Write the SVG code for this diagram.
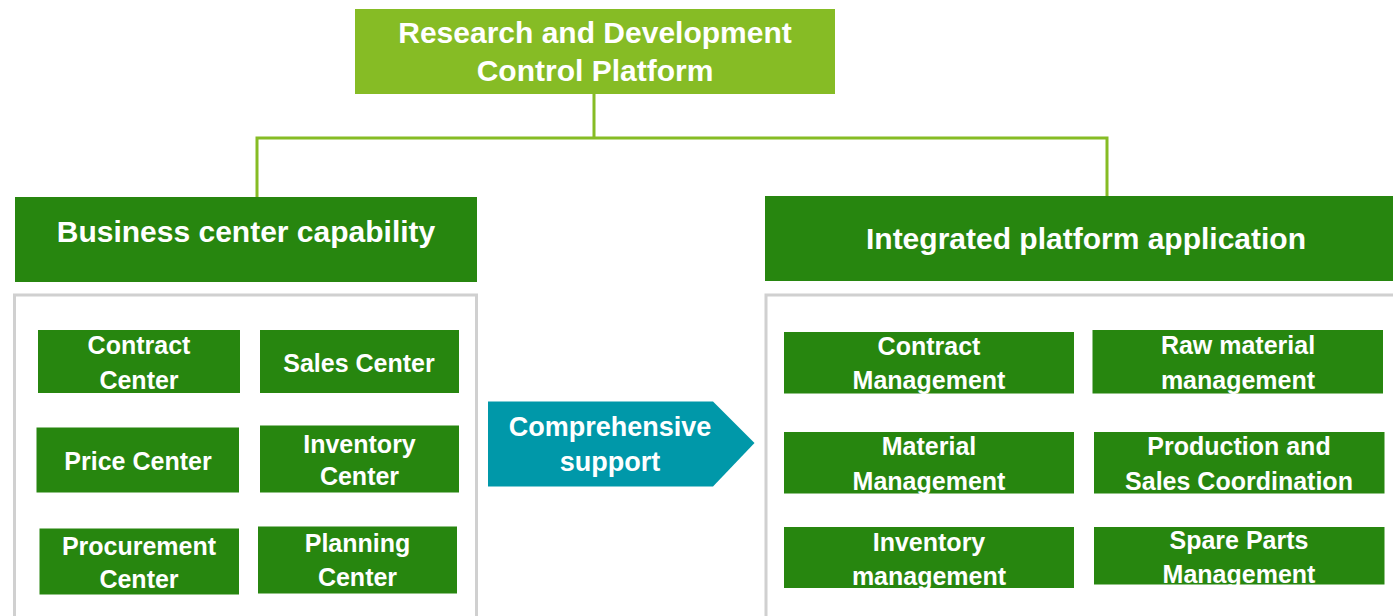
<svg xmlns="http://www.w3.org/2000/svg" width="1393" height="616" viewBox="0 0 1393 616">
<style>
.bg{fill:#ffffff}
.top{fill:#86BC25}
.hdr{fill:#27860F}
.item{fill:#27860F}
.cont{fill:#ffffff;stroke:#D0D0D0;stroke-width:3}
.arrow{fill:#0098A9}
.conn{fill:none;stroke:#86BC25;stroke-width:3}
text{font-family:"Liberation Sans",Arial,sans-serif;font-weight:bold;fill:#ffffff;text-anchor:middle}
.t1{font-size:30px}
.t2{font-size:30px}
.t3{font-size:27px}
.t4{font-size:25px}
</style>
<rect class="bg" x="0" y="0" width="1393" height="616"/>
<g id="connectors">
<path class="conn" d="M594,94 V138 M257,197 V138 H1107 V197"/>
</g>
<g id="rd-platform">
<rect class="top" x="355" y="9" width="480" height="85"/>
<text class="t1" x="595" y="43">Research and Development</text>
<text class="t1" x="595" y="81">Control Platform</text>
</g>
<g id="business-center">
<rect class="hdr" x="15" y="197" width="462" height="85"/>
<text class="t2" x="246" y="242">Business center capability</text>
</g>
<g id="integrated-platform">
<rect class="hdr" x="765" y="196" width="642" height="85"/>
<text class="t2" x="1086" y="249">Integrated platform application</text>
</g>
<g id="business-container">
<rect class="cont" x="14.5" y="295" width="462" height="340"/>
</g>
<g id="integrated-container">
<rect class="cont" x="766" y="295" width="700" height="340"/>
</g>
<g id="contract-center">
<rect class="item" x="38" y="330" width="202" height="63"/>
<text class="t4" x="139" y="354">Contract</text>
<text class="t4" x="139" y="388.5">Center</text>
</g>
<g id="sales-center">
<rect class="item" x="260" y="330" width="199" height="63"/>
<text class="t4" x="359" y="372">Sales Center</text>
</g>
<g id="price-center">
<rect class="item" x="36.5" y="427.5" width="202.5" height="65"/>
<text class="t4" x="138" y="470">Price Center</text>
</g>
<g id="inventory-center">
<rect class="item" x="260" y="425.5" width="199" height="67"/>
<text class="t4" x="359.5" y="452.5">Inventory</text>
<text class="t4" x="359.5" y="485">Center</text>
</g>
<g id="procurement-center">
<rect class="item" x="39.5" y="528.5" width="199.5" height="66"/>
<text class="t4" x="139" y="555">Procurement</text>
<text class="t4" x="139" y="587.5">Center</text>
</g>
<g id="planning-center">
<rect class="item" x="258" y="526.5" width="199" height="67"/>
<text class="t4" x="357.5" y="552">Planning</text>
<text class="t4" x="357.5" y="586">Center</text>
</g>
<g id="comprehensive-support">
<polygon class="arrow" points="488,401.5 713,401.5 754.5,443 713,486.5 488,486.5"/>
<text class="t3" x="610" y="436">Comprehensive</text>
<text class="t3" x="610" y="471">support</text>
</g>
<g id="contract-management">
<rect class="item" x="784" y="332" width="290" height="61.5"/>
<text class="t4" x="929" y="354.5">Contract</text>
<text class="t4" x="929" y="388.5">Management</text>
</g>
<g id="raw-material-management">
<rect class="item" x="1092.5" y="330" width="290.5" height="63.5"/>
<text class="t4" x="1238" y="354">Raw material</text>
<text class="t4" x="1238" y="388.5">management</text>
</g>
<g id="material-management">
<rect class="item" x="784" y="432" width="290" height="61.5"/>
<text class="t4" x="929" y="455">Material</text>
<text class="t4" x="929" y="489.5">Management</text>
</g>
<g id="production-sales-coordination">
<rect class="item" x="1094" y="432" width="290.5" height="61.5"/>
<text class="t4" x="1239" y="455">Production and</text>
<text class="t4" x="1239" y="489.5">Sales Coordination</text>
</g>
<g id="inventory-management">
<rect class="item" x="784" y="527" width="290" height="61"/>
<text class="t4" x="929" y="551">Inventory</text>
<text class="t4" x="929" y="584.5">management</text>
</g>
<g id="spare-parts-management">
<rect class="item" x="1094" y="527" width="290.5" height="57.5"/>
<text class="t4" x="1239" y="548.5">Spare Parts</text>
<text class="t4" x="1239" y="582.5">Management</text>
</g>
</svg>
